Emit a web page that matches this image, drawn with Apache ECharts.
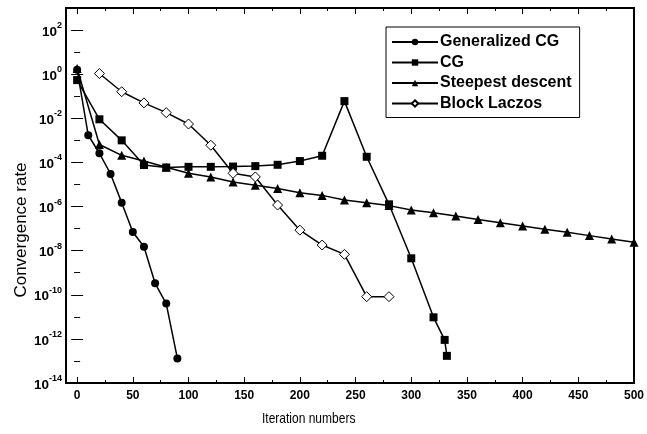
<!DOCTYPE html>
<html>
<head>
<meta charset="utf-8">
<script src="https://cdn.jsdelivr.net/npm/echarts@6/dist/echarts.min.js"></script>
<style>
html,body{margin:0;padding:0;background:#fff;}
#chart{width:647px;height:434px;}
</style>
</head>
<body>
<div id="chart"></div>
<script>
// ---- data ----
const seriesNames = ['Generalized CG', 'CG', 'Steepest descent', 'Block Laczos'];

const gcgX = [0, 10, 20, 30, 40, 50, 60, 70, 80, 90];
const gcgY = [1.6, 1.7e-3, 2.6e-4, 3e-5, 1.5e-6, 7e-8, 1.5e-8, 3.3e-10, 4e-11, 1.3e-13];

const cgX = [0, 20, 40, 60, 80, 100, 120, 140, 160, 180, 200, 220, 240, 260, 280, 300, 320, 330, 332];
const cgY = [0.54, 9e-3, 1e-3, 7.6e-5, 5.9e-5, 6.3e-5, 6.3e-5, 6.5e-5, 6.8e-5, 7.8e-5, 1.15e-4, 2e-4, 0.06, 1.8e-4, 1.26e-6, 4.5e-9, 9.5e-12, 9e-13, 1.7e-13];

const sdX = [0, 20, 40, 60, 80, 100, 120, 140, 160, 180, 200, 220, 240, 260, 280, 300, 320, 340, 360, 380, 400, 420, 440, 460, 480, 500];
const sdY = [1.8, 6.5e-4, 2.1e-4, 1.15e-4, 6e-5, 3.2e-5, 2.2e-5, 1.3e-5, 9.3e-6, 6.6e-6, 4.2e-6, 3.2e-6, 1.96e-6, 1.5e-6, 1.1e-6, 6.9e-7, 5.2e-7, 3.7e-7, 2.6e-7, 1.85e-7, 1.3e-7, 9.3e-8, 6.8e-8, 4.8e-8, 3.4e-8, 2.4e-8];

const blX = [20, 40, 60, 80, 100, 120, 140, 160, 180, 200, 220, 240, 260, 280];
const blY = [1.07, 0.16, 0.05, 0.018, 5.5e-3, 6e-4, 3.2e-5, 2.2e-5, 1.17e-6, 8.5e-8, 1.8e-8, 6.8e-9, 8.2e-11, 8.2e-11];

// ticks
const xMajorTicks = [0, 50, 100, 150, 200, 250, 300, 350, 400, 450, 500];
const xMinorTicks = [25, 75, 125, 175, 225, 275, 325, 375, 425, 475];
const yMajorTicks = [1e-14, 1e-12, 1e-10, 1e-8, 1e-6, 1e-4, 1e-2, 1e0, 1e2];
const yMinorTicks = [1e-13, 1e-11, 1e-9, 1e-7, 1e-5, 1e-3, 1e-1, 1e1, 1e3];

const xMin = -10, xMax = 500;
const yMin = 1e-14, yMax = 1e3;

// ---- chart ----
const FONT = 'Liberation Sans';
const pairs = (xs, ys) => xs.map((x, i) => [x, ys[i]]);

function xAxisDef(pos, ticks, len, labels) {
  return {
    type: 'value', min: xMin, max: xMax, position: pos,
    axisLine: {show: false}, splitLine: {show: false},
    axisTick: {show: true, inside: true, length: len, customValues: ticks, lineStyle: {color: '#000', width: 1}},
    axisLabel: labels ? {show: true, customValues: ticks, margin: 7, color: '#000', fontFamily: FONT, fontWeight: 'bold', fontSize: 12} : {show: false}
  };
}
function supFmt(v) {
  const e = Math.round(Math.log10(v));
  return '{b|10}{s|' + e + '}';
}
function yAxisDef(pos, ticks, len, labels) {
  return {
    type: 'log', logBase: 10, min: yMin, max: yMax, position: pos,
    axisLine: {show: false}, splitLine: {show: false}, minorTick: {show: false},
    axisTick: {show: true, inside: true, length: len, customValues: ticks, lineStyle: {color: '#000', width: 1}},
    axisLabel: labels ? {
      show: true, customValues: ticks, margin: 4, color: '#000', formatter: supFmt,
      rich: {
        b: {fontFamily: FONT, fontWeight: 'bold', fontSize: 13.5, color: '#000', verticalAlign: 'bottom', lineHeight: 18},
        s: {fontFamily: FONT, fontWeight: 'bold', fontSize: 9, color: '#000', verticalAlign: 'top', lineHeight: 18}
      }
    } : {show: false}
  };
}

function lineSeries(name, xs, ys, symbol, size, hollow) {
  return {
    name: name, type: 'line', xAxisIndex: 0, yAxisIndex: 0,
    data: pairs(xs, ys), symbol: symbol, symbolSize: size, showSymbol: true,
    lineStyle: {color: '#000', width: 1.5},
    itemStyle: hollow ? {color: '#fff', borderColor: '#000', borderWidth: 1} : {color: '#000', borderColor: '#000', borderWidth: 0},
    emphasis: {disabled: true}, animation: false, clip: false
  };
}

const chart = echarts.init(document.getElementById('chart'), null, {renderer: 'canvas'});
chart.setOption({
  animation: false,
  backgroundColor: '#fff',
  grid: {left: 66, right: 10, top: 8, bottom: 51, show: true, borderColor: '#000', borderWidth: 2, backgroundColor: 'transparent'},
  xAxis: [
    xAxisDef('bottom', xMajorTicks, 6, true),
    xAxisDef('bottom', xMinorTicks, 3, false),
    xAxisDef('top', xMajorTicks, 6, false),
    xAxisDef('top', xMinorTicks, 3, false)
  ],
  yAxis: [
    yAxisDef('left', yMajorTicks, 6, true),
    yAxisDef('left', yMinorTicks, 3, false),
    yAxisDef('right', yMajorTicks, 6, false),
    yAxisDef('right', yMinorTicks, 3, false)
  ],
  legend: {
    data: seriesNames, orient: 'vertical', left: 386, top: 27, align: 'left',
    itemWidth: 46, itemHeight: 8, itemGap: 4.5,
    borderColor: '#000', borderWidth: 1, borderRadius: 0, padding: [7, 8, 6, 5],
    textStyle: {fontFamily: FONT, fontWeight: 'bold', fontSize: 16, color: '#000', padding: [0, 0, 0, -3]},
    selectedMode: false
  },
  graphic: [
    {type: 'text', x: 262, y: 411, scaleX: 0.8, style: {text: 'Iteration numbers', fill: '#000', font: '15px "Liberation Sans"', align: 'left', verticalAlign: 'top'}},
    {type: 'text', x: 21, y: 230, rotation: Math.PI / 2, style: {text: 'Convergence rate', fill: '#000', font: '17px "Liberation Sans"', align: 'center', verticalAlign: 'middle'}}
  ],
  series: [
    lineSeries(seriesNames[0], gcgX, gcgY, 'circle', 8, false),
    lineSeries(seriesNames[1], cgX, cgY, 'rect', 8, false),
    lineSeries(seriesNames[2], sdX, sdY, 'triangle', 9, false),
    lineSeries(seriesNames[3], blX, blY, 'diamond', 10, true)
  ]
});
</script>
</body>
</html>
